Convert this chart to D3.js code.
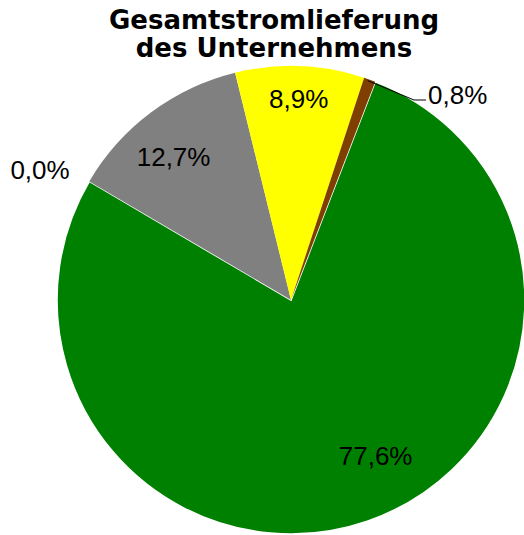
<!DOCTYPE html>
<html><head><meta charset="utf-8">
<script src="https://cdn.jsdelivr.net/npm/d3@7"></script>
<style>body{margin:0;background:#fff}svg{display:block}</style>
</head><body>
<svg id="c" width="524" height="535"></svg>
<script>
const categories = ["Kategorie A", "Kategorie B", "Kategorie C", "Kategorie D", "Kategorie E"];
const values = [77.6, 0.0, 12.7, 8.9, 0.8];
const labels = ["77,6%", "0,0%", "12,7%", "8,9%", "0,8%"];
const colors = ["#008000", "#000000", "#808080", "#FFFF00", "#7F3F00"];
const titleLines = ["Gesamtstromlieferung", "des Unternehmens"];

const svg = d3.select("#c");
const cx = 291, cy = 300, R = 234;
const start = 21.1 * Math.PI / 180;

const pie = d3.pie().sort(null).value(d => d).startAngle(start).endAngle(start + 2 * Math.PI);
const arcs = pie(values);
const arc = d3.arc().innerRadius(0).outerRadius(R);
const g = svg.append("g").attr("transform", `translate(${cx},${cy})`);

g.selectAll("path").data(arcs).join("path")
  .attr("d", arc)
  .attr("fill", (d, i) => colors[i])
  .attr("stroke", (d, i) => i === 0 ? "#fff" : "none")
  .attr("stroke-width", 1.6);

const inner = d3.arc().innerRadius(R * 0.8).outerRadius(R * 0.8);
const pos = (d, r) => {
  const a = (d.startAngle + d.endAngle) / 2;
  return [Math.sin(a) * r, -Math.cos(a) * r];
};

arcs.forEach((d, i) => {
  let x, y, anchor = "middle";
  if (i === 0) { const c = inner.centroid(d); x = c[0] + 23; y = c[1] - 21; }
  else if (i === 2) { const c = pos(d, R * 0.79); x = c[0] - 7; y = c[1] + 5; }
  else if (i === 3) { const c = pos(d, R * 0.86); x = c[0]; y = c[1]; }
  else if (i === 1) { x = 40 - cx; y = 170 - cy; }
  else { x = 428 - cx; y = 95 - cy; anchor = "start"; }
  g.append("text").attr("x", x).attr("y", y).attr("dy", "0.35em")
    .attr("text-anchor", anchor)
    .attr("font-family", "Liberation Sans, Arial, sans-serif")
    .attr("font-size", 26).attr("fill", "#000").text(labels[i]);
});

// leader line for 0,8%
const d4 = arcs[4];
const p0 = pos(d4, R);
g.append("polyline")
  .attr("points", [[p0[0] - 2, p0[1] + 1], [414 - cx, 100 - cy], [426 - cx, 100 - cy]].map(p => p.join(",")).join(" "))
  .attr("fill", "none").attr("stroke", "#000").attr("stroke-width", 1);

svg.append("text").attr("x", 274).attr("y", 29)
  .attr("text-anchor", "middle")
  .attr("font-family", "DejaVu Sans, Verdana, sans-serif").attr("font-weight", "bold")
  .attr("font-size", 26)
  .selectAll("tspan").data(titleLines).join("tspan")
  .attr("x", 274).attr("dy", (d, i) => i === 0 ? 0 : 28).text(d => d);
</script>
</body></html>
